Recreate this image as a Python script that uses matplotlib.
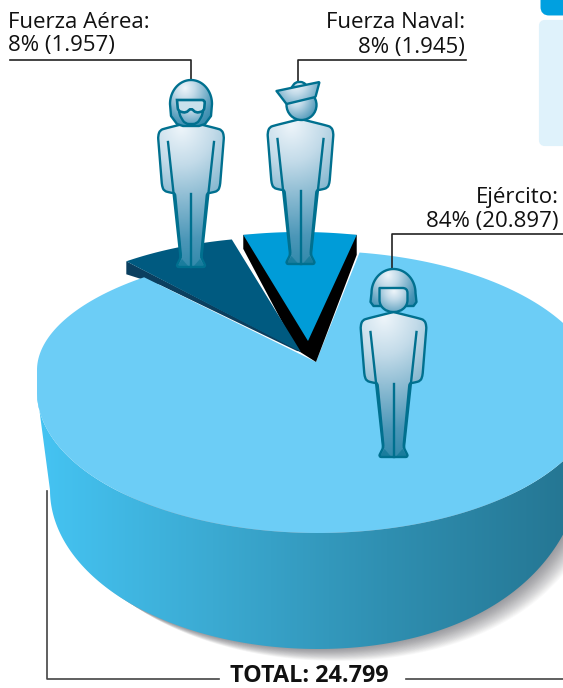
import numpy as np
import matplotlib
matplotlib.use('Agg')
import matplotlib.pyplot as plt
from matplotlib.colors import LinearSegmentedColormap
from matplotlib.patches import FancyBboxPatch, PathPatch, Polygon
from matplotlib.path import Path

# data
branches = ['Fuerza Aérea', 'Fuerza Naval', 'Ejército']
shares = [8, 8, 84]
counts = [1957, 1945, 20897]
count_labels = ['1.957', '1.945', '20.897']
total_label = '24.799'

plt.rcParams['font.family'] = ['Open Sans', 'DejaVu Sans']

W, H = 563, 688
fig = plt.figure(figsize=(W / 100, H / 100), dpi=100)
ax = fig.add_axes([0, 0, 1, 1])
ax.set_xlim(0, W)
ax.set_ylim(H, 0)
ax.axis('off')

# the small slices look narrower in the perspective of the drawing
SMALL_SCALE = 0.825
total = sum(counts)
air_span = counts[0] / total * 360 * SMALL_SCALE
navy_span = counts[1] / total * 360 * SMALL_SCALE
army_span = 360 - air_span - navy_span

TOP = (318, 392, 281, 141)
NAVY_TOP = (300, 373, 281, 141)
AIR_TOP = (284, 378, 281, 141)
BOTTOM = (318, 490, 268, 159)


def arc(ell, a0, a1, n=120):
    cx, cy, rx, ry = ell
    t = np.radians(np.linspace(a0, a1, n))
    return np.column_stack([cx + rx * np.cos(t), cy - ry * np.sin(t)])


def top_arc(a0, a1, n=240):
    # the drawn pie is not a true ellipse, its upper left side sits higher
    pts = arc(TOP, a0, a1, n)
    ang = np.linspace(a0, a1, n) % 360
    lift = np.where((ang > 90) & (ang <= 180), 22 * ((ang - 90) / 90) ** 2, 0)
    pts[:, 1] -= lift
    return pts


def bottom_arc(a0, a1, n=160):
    # and its lower right side rises faster
    pts = arc(BOTTOM, a0, a1, n)
    ang = np.linspace(a0, a1, n) % 360
    lift = np.where(ang > 270, 50 * ((ang - 270) / 90) ** 3, 0)
    pts[:, 1] -= lift
    return pts


def gradient_fill(patch, x0, x1, y0, y1, values, cmap, zorder):
    ax.add_patch(patch)
    patch.set_facecolor('none')
    im = ax.imshow(values, extent=[x0, x1, y1, y0], cmap=cmap, vmin=0, vmax=1,
                   aspect='auto', zorder=zorder, interpolation='bilinear')
    im.set_clip_path(patch)
    ax.set_xlim(0, W)
    ax.set_ylim(H, 0)


# panel cut at the right edge
ax.add_patch(FancyBboxPatch((544, -20), 40, 32, boxstyle='round,pad=0,rounding_size=5',
                            fc='#00A0E0', ec='#00A0E0', lw=5))
ax.add_patch(FancyBboxPatch((541, 22), 40, 122, boxstyle='round,pad=0,rounding_size=4',
                            fc='#DFF2FB', ec='#DFF2FB', lw=3))

# soft shadow under the pie
for i in range(24, 0, -1):
    pts = bottom_arc(180, 360) + [i * 0.8, i * 0.5]
    ax.add_patch(Polygon(pts, closed=True, fc='#30303A', ec='none', alpha=0.022, zorder=1))

# side wall
wall_pts = np.vstack([arc(TOP, 180, 360), bottom_arc(360, 180)])
wall_cmap = LinearSegmentedColormap.from_list('wall', ['#45C4F3', '#3BAAD2', '#2F8FB1', '#257794'])
wall = Polygon(wall_pts, closed=True, ec='none')
gradient_fill(wall, 37, 563, 380, 660, np.linspace(0, 1, 256).reshape(1, -1), wall_cmap, 2)

# Fuerza Aérea side, under the big slice
air_arc = arc(AIR_TOP, 100.7, 100.7 + air_span)
ax.add_patch(Polygon([air_arc[-1], air_arc[-1] + [0, 13], [160, 285], [297, 351], [303, 352]], closed=True,
                     fc='#0B3F5F', ec='none', zorder=2.5))

# Ejército slice
army_start = 81.5
army_apex = [316, 362]
army_pts = np.vstack([[army_apex], top_arc(army_start, army_start - army_span)])
ax.add_patch(Polygon(army_pts, closed=True, fc='#6CCDF6', ec='none', zorder=3))

# Fuerza Naval slice
navy_arc = arc(NAVY_TOP, 90 + navy_span / 2, 90 - navy_span / 2)
ax.add_patch(Polygon([navy_arc[0], navy_arc[0] + [0, 14], [297, 350], [316, 362],
                      navy_arc[-1] + [0, 20], navy_arc[-1]],
                     closed=True, fc='black', ec='none', zorder=4))
ax.add_patch(Polygon(np.vstack([[[308, 341]], navy_arc]), closed=True, fc='#009CD8', ec='none', zorder=5))

# Fuerza Aérea slice
ax.add_patch(Polygon(np.vstack([[[301, 352]], air_arc]), closed=True, fc='#005A80', ec='none', zorder=5))

# people
OUT = '#00708F'
person_cmap = LinearSegmentedColormap.from_list('person', ['#EEF5FA', '#C3DBE9', '#86B8D0', '#4C97B8', '#2A86A8'])


def smooth(points, r=3):
    # polyline with quadratic rounded corners
    pts = np.array(points, float)
    verts = [pts[0]]
    codes = [Path.MOVETO]
    for i in range(1, len(pts) - 1):
        a, b, c = pts[i - 1], pts[i], pts[i + 1]
        p = b + (a - b) / np.linalg.norm(a - b) * min(r, np.linalg.norm(a - b) / 2)
        q = b + (c - b) / np.linalg.norm(c - b) * min(r, np.linalg.norm(c - b) / 2)
        verts += [p, b, q]
        codes += [Path.LINETO, Path.CURVE3, Path.CURVE3]
    verts += [pts[-1], pts[-1]]
    codes += [Path.LINETO, Path.CLOSEPOLY]
    return Path(verts, codes)


def dome(cx, top, rx, ry, lower):
    # half ellipse over the head, closed through the points in lower
    t = np.radians(np.linspace(180, 0, 40))
    upper = np.column_stack([cx + rx * np.cos(t), top + ry - ry * np.sin(t)])
    pts = np.vstack([upper, lower, upper[:1]])
    return Path(pts, closed=True)


def shaded(path, hx, hy, hw, hh, z):
    x0, y0 = path.vertices.min(axis=0)
    x1, y1 = path.vertices.max(axis=0)
    xx, yy = np.meshgrid(np.linspace(x0, x1, 80), np.linspace(y0, y1, 160))
    values = np.clip(np.hypot((xx - hx) / hw, (yy - hy) / hh), 0, 1)
    gradient_fill(PathPatch(path, ec='none'), x0, x1, y0, y1, values, person_cmap, z)
    ax.add_patch(PathPatch(path, fc='none', ec=OUT, lw=1.7, zorder=z + 0.5, joinstyle='round'))


def person(cx, base, kind):
    half = [(0, -145), (24, -139), (31, -137), (33, -131), (29, -81), (27, -76), (19, -74),
            (16, -74), (10, -10), (15, 0)]
    right = [(cx + a, base + b) for a, b in half]
    left = [(cx - a, base + b) for a, b in half[::-1][:-1]]
    body = smooth(right + left + [right[0]], r=3)
    shaded(body, cx - 10, base - 140, 130, 150, 7)
    for s in (-1, 1):
        ax.plot([cx + s * 23, cx + s * 10.5], [base - 125, base - 10], color=OUT, lw=1.7, zorder=8)
        ax.add_patch(Polygon([(cx + s * 9, base - 8), (cx + s * 14, base), (cx + s * 2, base)],
                             closed=True, fc=OUT, ec='none', alpha=0.5, zorder=8))
    ax.plot([cx, cx], [base - 73, base], color=OUT, lw=1.7, zorder=8)

    if kind == 'air':
        t = base - 187
        helmet = dome(cx, t, 21, 24, [(cx + 20, t + 36), (cx + 14, t + 44), (cx + 8, t + 46),
                                      (cx - 8, t + 46), (cx - 14, t + 44), (cx - 20, t + 36)])
        shaded(helmet, cx - 6, t + 8, 40, 45, 9)
        face = smooth([(cx - 12, t + 22), (cx + 12, t + 22), (cx + 12, t + 34), (cx + 6, t + 44),
                       (cx - 6, t + 44), (cx - 12, t + 34), (cx - 12, t + 22)], r=4)
        shaded(face, cx, t + 22, 34, 34, 10)
        ax.add_patch(PathPatch(smooth([(cx - 14, t + 20), (cx + 14, t + 20), (cx + 13, t + 31),
                                       (cx + 5, t + 33), (cx, t + 28), (cx - 5, t + 33),
                                       (cx - 13, t + 31), (cx - 14, t + 20)], r=3),
                               fc='#C9E1EC', ec=OUT, lw=1.9, zorder=11))
    elif kind == 'navy':
        head = Path.circle((cx + 1, base - 159), 15)
        shaded(head, cx - 5, base - 166, 30, 34, 9)
        crown = smooth([(cx - 12, base - 172), (cx - 5, base - 182), (cx + 3, base - 182),
                        (cx + 8, base - 176), (cx - 12, base - 172)], r=3)
        shaded(crown, cx, base - 182, 24, 24, 10)
        hat = smooth([(cx - 24, base - 173), (cx + 19, base - 182), (cx + 15, base - 167),
                      (cx - 14, base - 160), (cx - 24, base - 173)], r=1)
        shaded(hat, cx - 5, base - 180, 40, 40, 11)
    else:
        t = base - 188
        helmet = dome(cx, t, 22, 24, [(cx + 23, t + 33), (cx + 20, t + 37), (cx + 12, t + 37),
                                      (cx - 12, t + 37), (cx - 20, t + 37), (cx - 23, t + 33)])
        shaded(helmet, cx - 6, t + 6, 40, 45, 9)
        face = smooth([(cx - 14, t + 19), (cx + 14, t + 19), (cx + 14, t + 36), (cx + 6, t + 43),
                       (cx - 6, t + 43), (cx - 14, t + 36), (cx - 14, t + 19)], r=5)
        shaded(face, cx, t + 22, 34, 34, 10)


person(191, 267, 'air')
person(300.5, 264, 'navy')
person(393.5, 457, 'army')

# labels and leader lines
LINE = '#222222'
ax.plot([10, 191, 191], [60, 60, 80], color=LINE, lw=1.2, zorder=6)
ax.plot([466, 298, 298], [60, 60, 82], color=LINE, lw=1.2, zorder=6)
ax.plot([563, 392, 392], [234, 234, 269], color=LINE, lw=1.2, zorder=6)

FS = 16
ax.text(8, 22, branches[0] + ':', fontsize=FS, ha='left', va='center', color='#111111')
ax.text(8, 45, f'{shares[0]}% ({count_labels[0]})', fontsize=FS, ha='left', va='center', color='#111111')
ax.text(465, 23, branches[1] + ':', fontsize=FS, ha='right', va='center', color='#111111')
ax.text(465, 47, f'{shares[1]}% ({count_labels[1]})', fontsize=FS, ha='right', va='center', color='#111111')
ax.text(559, 197, branches[2] + ':', fontsize=FS, ha='right', va='center', color='#111111')
ax.text(559, 221, f'{shares[2]}% ({count_labels[2]})', fontsize=FS, ha='right', va='center', color='#111111')

ax.plot([47, 47, 219], [491, 679, 679], color='#444444', lw=1.2, zorder=6)
ax.plot([406, 563], [679, 679], color='#444444', lw=1.2, zorder=6)
ax.text(309, 676, f'TOTAL: {total_label}', fontsize=16.8, fontweight='bold', ha='center', va='center', color='#111111')

fig.savefig('out.png', dpi=100)
